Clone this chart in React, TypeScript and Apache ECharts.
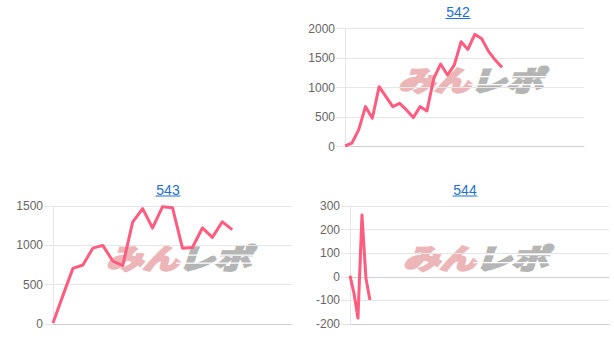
import React, { useEffect, useRef } from "react";
import * as echarts from "echarts";

// chart titles
const titles = ["542", "543", "544"];

// number of x categories on each chart
const catCount542 = 36;
const catCount543 = 25;
const catCount544 = 66;

// series values
const values542 = [11, 56, 282, 676, 479, 1014, 845, 676, 732, 620, 490, 676, 603, 1155, 1397, 1211, 1380, 1775, 1645, 1900, 1831, 1617, 1465, 1341];
const values543 = [14, 364, 707, 750, 964, 999, 801, 741, 1294, 1466, 1221, 1491, 1479, 964, 973, 1221, 1101, 1299, 1200];
const values544 = [5, -70, -175, 262, -6, -98];

// y axis ranges [min, max, interval]
const yRange542 = [0, 2000, 500];
const yRange543 = [0, 1500, 500];
const yRange544 = [-200, 300, 100];

const makeCats = (n: number) => Array.from({ length: n }, (_, i) => String(i + 1));

const LINE = "#ff5c80";
const GRID = "#e6e6e6";
const ZERO = "#cfcfcf";
const LINK = "#1f6fd0";
const FONT = "Liberation Sans, Arial, sans-serif";

const grids = [
  { left: 345, top: 28.5, width: 239, height: 118 },
  { left: 53, top: 206, width: 239, height: 118 },
  { left: 350, top: 206, width: 259, height: 118 },
];

const titlePos = [
  { x: 458, y: 12, uy: 18.5 },
  { x: 168, y: 189.5, uy: 196 },
  { x: 465, y: 189.5, uy: 196 },
];

const wmPos = [
  { x: 394, y: 66 },
  { x: 102, y: 244.5 },
  { x: 399, y: 244 },
];

const PINK = "#ecb6b8";
const GREY = "#b5b5b5";

function watermark(x: number, y: number) {
  const wmText = (t: string, dx: number, color: string) => ({
    type: "text",
    x: dx,
    y: -2,
    scaleX: 1.3,
    scaleY: 1.0,
    style: {
      text: t,
      font: "italic bold 28px 'Noto Sans CJK JP'",
      fill: color,
      stroke: color,
      lineWidth: 2.5,
      textVerticalAlign: "top",
    },
  });
  return {
    type: "group",
    x,
    y,
    silent: true,
    z: 0,
    children: [
      wmText("みん", 4, PINK),
      wmText("レポ", 76, GREY),
      { type: "rect", shape: { x: 74, y: 10, width: 80, height: 1.2 }, style: { fill: "#fff" } },
      { type: "rect", shape: { x: 74, y: 18, width: 80, height: 1.2 }, style: { fill: "#fff" } },
    ],
  };
}

export default function App() {
  const ref = useRef<HTMLDivElement>(null);
  useEffect(() => {
    if (!ref.current) return;
    const chart = echarts.init(ref.current, null, { renderer: "svg" });
    const cats = [makeCats(catCount542), makeCats(catCount543), makeCats(catCount544)];
    const vals = [values542, values543, values544];
    const ranges = [yRange542, yRange543, yRange544];

    const graphic: any[] = [];
    titles.forEach((t, i) => {
      const p = titlePos[i];
      graphic.push({
        type: "text",
        x: p.x,
        y: p.y,
        z: 10,
        style: { text: t, font: `14px ${FONT}`, fill: LINK, textAlign: "center", textVerticalAlign: "middle" },
      });
      graphic.push({
        type: "line",
        z: 10,
        shape: { x1: p.x - 12.5, y1: p.uy, x2: p.x + 12.5, y2: p.uy },
        style: { stroke: LINK, lineWidth: 1 },
      });
      graphic.push(watermark(wmPos[i].x, wmPos[i].y));
    });

    chart.setOption({
      animation: false,
      grid: grids.map((g) => ({ ...g, containLabel: false })),
      xAxis: cats.map((c, i) => ({
        type: "category",
        gridIndex: i,
        data: c,
        boundaryGap: false,
        axisLabel: { show: false },
        axisTick: { show: false },
        axisLine: { show: true, onZero: false, lineStyle: { color: ZERO, width: 1 } },
        splitLine: { show: false },
      })),
      yAxis: ranges.map((r, i) => {
        const n = Math.round((r[1] - r[0]) / r[2]) + 1;
        const colors: string[] = [];
        for (let k = 0; k < n; k++) colors.push(r[0] + k * r[2] === 0 ? ZERO : GRID);
        return {
          type: "value",
          gridIndex: i,
          min: r[0],
          max: r[1],
          interval: r[2],
          axisLine: { show: true, lineStyle: { color: GRID } },
          axisTick: { show: true, length: 9, lineStyle: { color: GRID } },
          axisLabel: {
            color: "#666",
            fontSize: 12,
            fontFamily: FONT,
            margin: 10,
            formatter: (v: number) => String(v),
          },
          splitLine: { show: true, lineStyle: { color: colors, width: 1 } },
        };
      }),
      series: vals.map((v, i) => ({
        type: "line",
        xAxisIndex: i,
        yAxisIndex: i,
        data: v,
        showSymbol: false,
        symbol: "none",
        z: 5,
        lineStyle: { color: LINE, width: 3, join: "round" },
      })),
      graphic,
    });
    return () => chart.dispose();
  }, []);
  return (
    <div
      ref={ref}
      style={{ position: "absolute", left: 0, top: 0, width: 614, height: 357, background: "#fff" }}
    />
  );
}
